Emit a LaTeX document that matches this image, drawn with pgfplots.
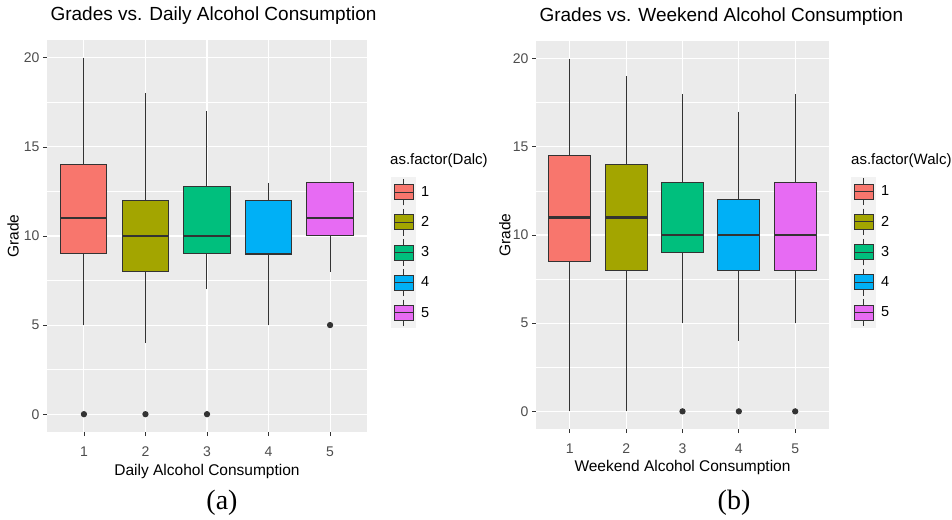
\documentclass[border=0pt]{standalone}
\usepackage{fontspec}
\setmainfont{Liberation Sans}
\newfontfamily\capfont{Liberation Serif}
\usepackage{pgfplots}
\pgfplotsset{compat=1.18}
\usepgfplotslibrary{statistics}
\definecolor{cOne}{HTML}{F8766D}
\definecolor{cTwo}{HTML}{A3A500}
\definecolor{cThree}{HTML}{00BF7D}
\definecolor{cFour}{HTML}{00B0F6}
\definecolor{cFive}{HTML}{E76BF3}
\definecolor{panel}{HTML}{EBEBEB}
\definecolor{legbg}{HTML}{F2F2F2}
\definecolor{gtwenty}{HTML}{333333}
\definecolor{gthirty}{HTML}{4D4D4D}
\newcommand{\legkey}[1]{%
  \fill[legbg] (0pt,-14.6pt) rectangle (24pt,14.6pt);
  \draw[gtwenty, line width=1pt] (12pt,-13.3pt) -- (12pt,13.3pt);
  \draw[gtwenty, line width=1pt, fill=#1] (2.5pt,-7.5pt) rectangle (21.5pt,7.5pt);
  \draw[gtwenty, line width=1pt] (2.5pt,0pt) -- (21.5pt,0pt);
}
\pgfplotsset{
  ggbox/.style={
    scale only axis, xmin=0.4, xmax=5.6, ymin=-1, ymax=21,
    xtick={1,2,3,4,5}, ytick={0,5,10,15,20}, minor ytick={2.5,7.5,12.5,17.5},
    grid=both,
    major grid style={white, line width=1.1pt},
    minor grid style={white, line width=0.55pt},
    axis background/.style={fill=panel},
    axis line style={draw=none},
    tick align=outside, tick pos=left, major tick length=4pt, minor tick length=0pt,
    tick style={gtwenty, line width=0.8pt},
    ticklabel style={font=\fontsize{14}{16}\selectfont, text=gthirty},
    xticklabel style={yshift=-7pt},
    /pgf/number format/assume math mode=true,
    label style={font=\fontsize{15.5}{18}\selectfont},
    xlabel style={at={(axis description cs:0.5,-0.1)}, anchor=center},
    ylabel style={at={(axis description cs:-0.106,0.5)}, anchor=center},
    title style={at={(axis description cs:0,1)}, anchor=base west, yshift=13pt, font=\fontsize{19}{22}\selectfont},
    boxplot/draw direction=y,
    boxplot/box extend=0.75, boxplot/whisker extend=0,
    boxplot/every median/.style={line width=2.6pt},
    legend style={at={(rel axis cs:1.075,0.651)}, anchor=north west, draw=none, fill=none,
      inner sep=0pt, row sep=0pt, column sep=3pt, font=\fontsize{14.5}{16}\selectfont,
      cells={anchor=west}},
  },
  bx/.style={boxplot prepared={#1}, boxplot/draw direction=y, draw=gtwenty, line width=1pt, solid,
    mark=*, mark size=2.6pt, mark options={fill=gtwenty, draw=gtwenty}},
}
\begin{document}
\begin{tikzpicture}
\useasboundingbox (0pt,0pt) rectangle (952pt,519pt);
% ---------------- (a) Daily ----------------
\begin{axis}[ggbox, at={(47pt,87pt)}, anchor=south west, width=320pt, height=392pt,
  title={Grades vs. Daily Alcohol Consumption},
  xlabel={Daily Alcohol Consumption}, ylabel={Grade}]
\addplot[bx={draw position=1, lower whisker=5, lower quartile=9, median=11, upper quartile=14, upper whisker=20},
  fill=cOne, legend image code/.code={\legkey{cOne}}] table[row sep=\\, y index=0] {data\\ 0\\};
\addlegendentry{1}
\addplot[bx={draw position=2, lower whisker=4, lower quartile=8, median=10, upper quartile=12, upper whisker=18},
  fill=cTwo, legend image code/.code={\legkey{cTwo}}] table[row sep=\\, y index=0] {data\\ 0\\};
\addlegendentry{2}
\addplot[bx={draw position=3, lower whisker=7, lower quartile=9, median=10, upper quartile=12.75, upper whisker=17},
  fill=cThree, legend image code/.code={\legkey{cThree}}] table[row sep=\\, y index=0] {data\\ 0\\};
\addlegendentry{3}
\addplot[bx={draw position=4, lower whisker=5, lower quartile=9, median=9, upper quartile=12, upper whisker=13},
  fill=cFour, legend image code/.code={\legkey{cFour}}] coordinates {};
\addlegendentry{4}
\addplot[bx={draw position=5, lower whisker=8, lower quartile=10, median=11, upper quartile=13, upper whisker=13},
  fill=cFive, legend image code/.code={\legkey{cFive}}] table[row sep=\\, y index=0] {data\\ 5\\};
\addlegendentry{5}
\end{axis}
% ---------------- (b) Weekend ----------------
\begin{axis}[ggbox, at={(536pt,90pt)}, anchor=south west, width=293pt, height=388pt,
  title={Grades vs. Weekend Alcohol Consumption},
  xlabel={Weekend Alcohol Consumption}, ylabel={Grade}]
\addplot[bx={draw position=1, lower whisker=0, lower quartile=8.5, median=11, upper quartile=14.5, upper whisker=20},
  fill=cOne, legend image code/.code={\legkey{cOne}}] coordinates {};
\addlegendentry{1}
\addplot[bx={draw position=2, lower whisker=0, lower quartile=8, median=11, upper quartile=14, upper whisker=19},
  fill=cTwo, legend image code/.code={\legkey{cTwo}}] coordinates {};
\addlegendentry{2}
\addplot[bx={draw position=3, lower whisker=5, lower quartile=9, median=10, upper quartile=13, upper whisker=18},
  fill=cThree, legend image code/.code={\legkey{cThree}}] table[row sep=\\, y index=0] {data\\ 0\\};
\addlegendentry{3}
\addplot[bx={draw position=4, lower whisker=4, lower quartile=8, median=10, upper quartile=12, upper whisker=17},
  fill=cFour, legend image code/.code={\legkey{cFour}}] table[row sep=\\, y index=0] {data\\ 0\\};
\addlegendentry{4}
\addplot[bx={draw position=5, lower whisker=5, lower quartile=8, median=10, upper quartile=13, upper whisker=18},
  fill=cFive, legend image code/.code={\legkey{cFive}}] table[row sep=\\, y index=0] {data\\ 0\\};
\addlegendentry{5}
\end{axis}
% legend titles and captions
\node[anchor=west, inner sep=0pt, font=\fontsize{15}{18}\selectfont] at (390pt,358.3pt) {as.factor(Dalc)};
\node[anchor=west, inner sep=0pt, font=\fontsize{15}{18}\selectfont] at (851pt,358.3pt) {as.factor(Walc)};
\node[font=\capfont\fontsize{28}{30}\selectfont] at (222pt,16pt) {(a)};
\node[font=\capfont\fontsize{28}{30}\selectfont] at (734pt,16pt) {(b)};
\end{tikzpicture}
\end{document}
